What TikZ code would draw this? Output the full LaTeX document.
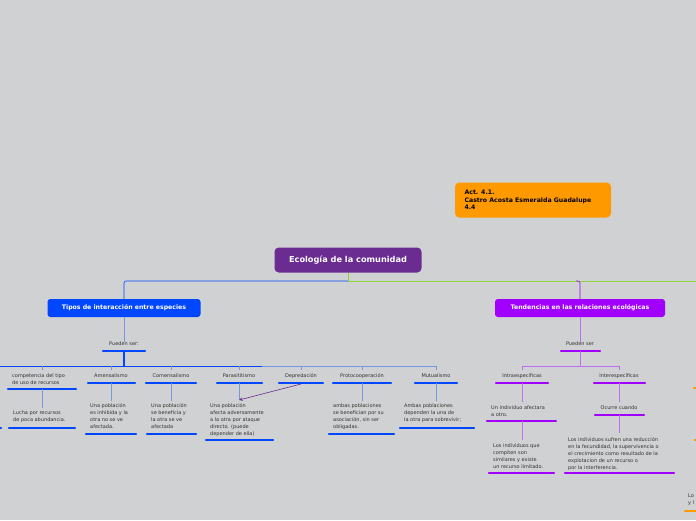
\documentclass[tikz,border=0pt]{standalone}
\usepackage{fontspec}
\setmainfont{DejaVu Sans}
\definecolor{bgray}{RGB}{208,209,211}
\definecolor{topic}{RGB}{106,44,145}
\definecolor{bluebox}{RGB}{0,71,255}
\definecolor{purplebox}{RGB}{161,0,255}
\definecolor{orangebox}{RGB}{255,153,0}
\definecolor{lightblue}{RGB}{120,150,230}
\definecolor{lightpurple}{RGB}{190,110,240}
\definecolor{greenline}{RGB}{140,212,58}
\definecolor{textgray}{RGB}{50,50,50}

\begin{document}
\begin{tikzpicture}[x=1pt, y=-1pt,
        main/.style = {rounded corners=1.5mm, text=white, font=\bfseries\fontsize{8.2}{9}\selectfont, inner sep=0pt},
        sub/.style = {rounded corners=1mm, text=white, font=\bfseries\fontsize{6.2}{7}\selectfont, inner sep=0pt},
        item/.style = {text=textgray, font=\fontsize{5}{7}\selectfont, align=left, inner sep=0pt},
        bar/.style = {line width=2.2pt, line cap=round},
        link/.style = {line width=0.6pt}]
    \fill[bgray] (0,0) rectangle (696,520);
    \clip (0,0) rectangle (696,520);
    % main topics
    \node[main, fill=topic, minimum width=147pt, minimum height=25pt] (eco) at (348,260) {Ecología de la comunidad};
    \node[rounded corners=1.5mm, fill=orangebox, minimum width=156pt, minimum height=35pt] (act) at (533,200) {};
    \node[font=\bfseries\fontsize{6.2}{7.5}\selectfont, align=left, anchor=west] at (461,200) {Act. 4.1.\\Castro Acosta Esmeralda Guadalupe\\4.4};
    \node[sub, fill=bluebox, minimum width=153pt, minimum height=18pt] (tipos) at (124,308) {Tipos de interacción entre especies};
    \node[sub, fill=purplebox, minimum width=170pt, minimum height=18pt] (tend) at (580,308) {Tendencias en las relaciones ecológicas};
    \coordinate (hub) at (348,281);
    \draw[link, greenline] (eco.south) -- (hub) -- (696,281);
    \draw[link, bluebox, rounded corners=2pt] (hub) -| (tipos.north);
    \draw[link, purplebox, rounded corners=2pt] (576,281) -| (tend.north);

    % tipos de interaccion
    \node[item] (pa) at (124,344) {Pueden ser:};
    \draw[bar, bluebox] (103,351) -- (145,351);
    \draw[link, lightblue] (tipos.south) -- (pa.north);
    \draw[line width=1.2pt, bluebox] (124,351) -- (124,366);
    \draw[link, bluebox] (0,366) -- (262,366);
    \draw[link, lightblue] (262,366) -- (436,366);
    \foreach \x in {42,111,171,239,301,362,436}
        \draw[link, lightblue] (\x,366) -- (\x,370);

    \node[item, anchor=west] (comp) at (12,379) {competencia del tipo\\de uso de recursos};
    \draw[bar, bluebox] (8,389) -- (76,389);
    \node[item] (amen) at (111,376) {Amensalismo};
    \draw[bar, bluebox] (88,383) -- (135,383);
    \node[item] (come) at (171,376) {Comensalismo};
    \draw[bar, bluebox] (146,383) -- (196,383);
    \node[item] (para) at (239,376) {Parasititismo};
    \draw[bar, bluebox] (217,383) -- (262,383);
    \node[item] (depr) at (301,376) {Depredación};
    \draw[bar, bluebox] (279,383) -- (323,383);
    \node[item] (prot) at (362,376) {Protocooperación};
    \draw[bar, bluebox] (333,383) -- (391,383);
    \node[item] (mutu) at (436,376) {Mutualismo};
    \draw[bar, bluebox] (415,383) -- (457,383);

    \node[item, anchor=north west] (lucha) at (13,410) {Lucha por recursos\\de poca abundancia.};
    \draw[bar, bluebox] (9,428) -- (75,428);
    \draw[link, lightblue] (42,389) -- (42,408);
    \node[item, anchor=north west] (amen2) at (90,403) {Una población\\es inhibida y la\\otra no se ve\\afectada.};
    \draw[bar, bluebox] (86,434) -- (136,434);
    \draw[link, lightblue] (111,383) -- (111,401);
    \node[item, anchor=north west] (come2) at (151,403) {Una población\\se beneficia y\\la otra se ve\\afectada};
    \draw[bar, bluebox] (147,434) -- (196,434);
    \draw[link, lightblue] (171,383) -- (171,401);
    \node[item, anchor=north west] (para2) at (210,403) {Una población\\afecta adversamente\\a la otra por ataque\\directo. (puede\\depender de ella)};
    \draw[bar, bluebox] (206,440) -- (273,440);
    \coordinate (paraend) at (239,400);
    \draw[link, lightblue] (239,383) -- (paraend);
    \draw[link, topic, ->, >=stealth] (301,384) -- (paraend);
    \node[item, anchor=north west] (prot2) at (333,403) {ambas poblaciones\\se benefician por su\\asociación, sin ser\\obligadas.};
    \draw[bar, bluebox] (329,434) -- (394,434);
    \draw[link, lightblue] (362,383) -- (362,401);
    \node[item, anchor=north west] (mutu2) at (404,403) {Ambas poblaciones\\dependen la una de\\la otra para sobrevivir;};
    \draw[bar, bluebox] (400,428) -- (474,428);
    \draw[link, lightblue] (436,383) -- (436,401);
    \draw[bar, bluebox] (-5,428) -- (1,428);

    % tendencias
    \node[item] (pb) at (580,344) {Pueden ser};
    \draw[bar, purplebox] (561,351) -- (600,351);
    \draw[link, lightpurple] (tend.south) -- (pb.north);
    \draw[link, lightpurple] (580,351) -- (580,366);
    \draw[link, lightpurple] (522,370) -- (522,366) -- (619,366) -- (619,370);
    \node[item] (intra) at (522,376) {Intraespecíficas};
    \draw[bar, purplebox] (496,383) -- (548,383);
    \node[item] (inter) at (619,376) {Interespecíficas};
    \draw[bar, purplebox] (594,383) -- (645,383);
    \node[item, anchor=north west] (intra2) at (491,405) {Un individuo afectara\\a otro.};
    \draw[bar, purplebox] (487,421) -- (556,421);
    \draw[link, lightpurple] (522,383) -- (522,402);
    \node[item, anchor=north west] (intra3) at (493,443) {Los individuos que\\compiten son\\similares y existe\\un recurso limitado.};
    \draw[bar, purplebox] (489,473) -- (554,473);
    \draw[link, lightpurple] (522,421) -- (522,440);
    \node[item] (ocurre) at (619,408) {Ocurre cuando};
    \draw[bar, purplebox] (595,415) -- (644,415);
    \draw[link, lightpurple] (619,383) -- (619,402);
    \node[item, anchor=north west] (inter2) at (568,437) {Los individuos sufren una reducción\\en la fecundidad, la supervivencia o\\el crecimiento como resultado de la\\explotacion de un recurso o\\por la interferencia.};
    \draw[bar, purplebox] (565,473) -- (674,473);
    \draw[link, lightpurple] (619,415) -- (619,433);

    % orange fragments at the edge
    \draw[bar, orangebox] (694,388) -- (700,388);
    \draw[bar, orangebox] (695,440) -- (700,440);
    \node[item, anchor=north west] (lo) at (688,494) {Lo\\y l};
    \draw[bar, orangebox] (685,511) -- (700,511);
\end{tikzpicture}
\end{document}
